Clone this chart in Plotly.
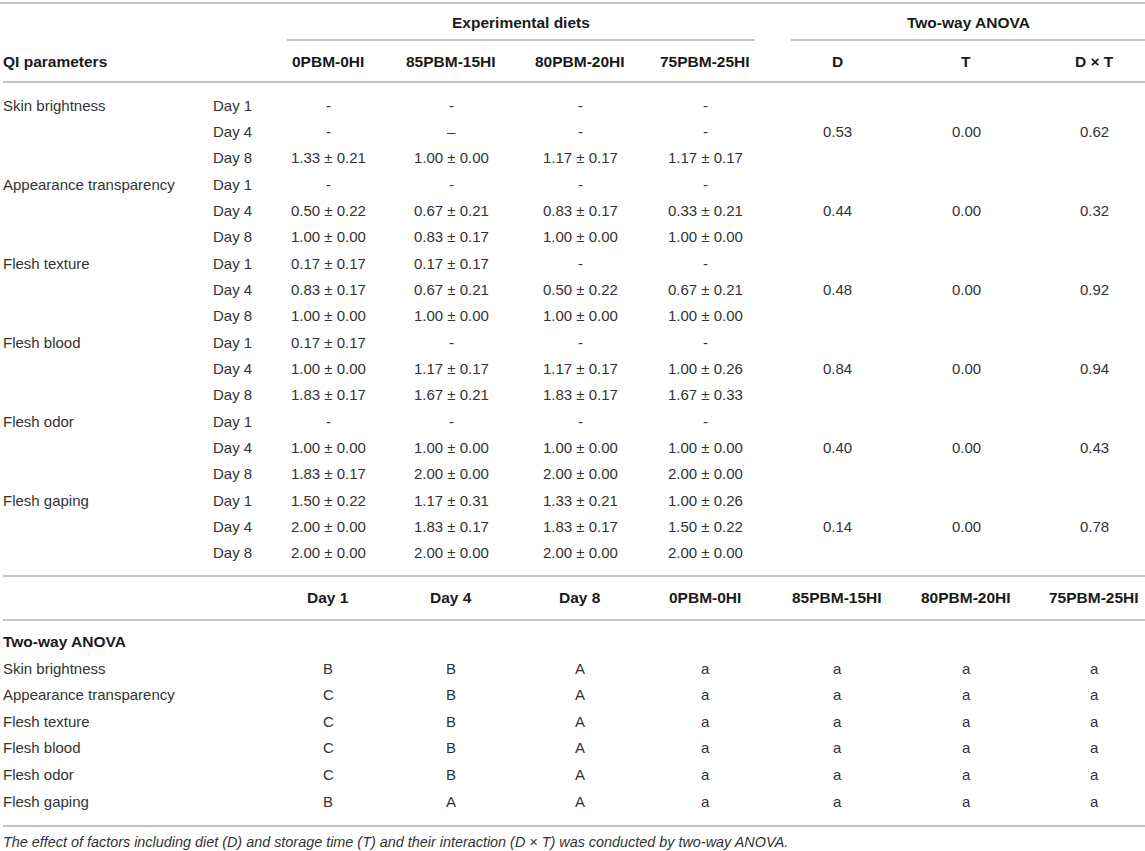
import plotly.graph_objects as go

# ---- table content ----
params = ["Skin brightness", "Appearance transparency", "Flesh texture",
          "Flesh blood", "Flesh odor", "Flesh gaping"]
days = ["Day 1", "Day 4", "Day 8"]
diets = ["0PBM-0HI", "85PBM-15HI", "80PBM-20HI", "75PBM-25HI"]
anova_cols = ["D", "T", "D × T"]

# mean ± SE per diet, rows = param x day (Day 1, Day 4, Day 8)
diet_0pbm = ["-", "-", "1.33 ± 0.21",
             "-", "0.50 ± 0.22", "1.00 ± 0.00",
             "0.17 ± 0.17", "0.83 ± 0.17", "1.00 ± 0.00",
             "0.17 ± 0.17", "1.00 ± 0.00", "1.83 ± 0.17",
             "-", "1.00 ± 0.00", "1.83 ± 0.17",
             "1.50 ± 0.22", "2.00 ± 0.00", "2.00 ± 0.00"]
diet_85pbm = ["-", "–", "1.00 ± 0.00",
              "-", "0.67 ± 0.21", "0.83 ± 0.17",
              "0.17 ± 0.17", "0.67 ± 0.21", "1.00 ± 0.00",
              "-", "1.17 ± 0.17", "1.67 ± 0.21",
              "-", "1.00 ± 0.00", "2.00 ± 0.00",
              "1.17 ± 0.31", "1.83 ± 0.17", "2.00 ± 0.00"]
diet_80pbm = ["-", "-", "1.17 ± 0.17",
              "-", "0.83 ± 0.17", "1.00 ± 0.00",
              "-", "0.50 ± 0.22", "1.00 ± 0.00",
              "-", "1.17 ± 0.17", "1.83 ± 0.17",
              "-", "1.00 ± 0.00", "2.00 ± 0.00",
              "1.33 ± 0.21", "1.83 ± 0.17", "2.00 ± 0.00"]
diet_75pbm = ["-", "-", "1.17 ± 0.17",
              "-", "0.33 ± 0.21", "1.00 ± 0.00",
              "-", "0.67 ± 0.21", "1.00 ± 0.00",
              "-", "1.00 ± 0.26", "1.67 ± 0.33",
              "-", "1.00 ± 0.00", "2.00 ± 0.00",
              "1.00 ± 0.26", "1.50 ± 0.22", "2.00 ± 0.00"]

# two-way ANOVA p-values per parameter
p_diet = [0.53, 0.44, 0.48, 0.84, 0.40, 0.14]
p_time = [0.00, 0.00, 0.00, 0.00, 0.00, 0.00]
p_inter = [0.62, 0.32, 0.92, 0.94, 0.43, 0.78]

# significance letters (lower block)
letters_day1 = ["B", "C", "C", "C", "C", "B"]
letters_day4 = ["B", "B", "B", "B", "B", "A"]
letters_day8 = ["A", "A", "A", "A", "A", "A"]
letters_0pbm = ["a", "a", "a", "a", "a", "a"]
letters_85pbm = ["a", "a", "a", "a", "a", "a"]
letters_80pbm = ["a", "a", "a", "a", "a", "a"]
letters_75pbm = ["a", "a", "a", "a", "a", "a"]

footnote = ("The effect of factors including diet (D) and storage time (T) and their "
            "interaction (D × T) was conducted by two-way ANOVA.")

# ---- layout constants (pixel space) ----
W, H = 1145, 851
FONT = "Liberation Sans, Arial, Helvetica, sans-serif"
BODY = "#333333"
HEAD = "#1a1a1a"
LINE = "#b0b0b0"
BODY_SIZE = 15
HEAD_SIZE = 15.5
col_x = [328, 451, 580, 705, 837, 966, 1094]
left_x = 1
day_x = 211
row0, pitch = 105, 26.35
low_row0, low_pitch = 668, 26.6

fig = go.Figure()
annos = []


def txt(x, y, s, anchor="center", bold=False, italic=False, size=BODY_SIZE, color=BODY):
    if bold:
        s = f"<b>{s}</b>"
        size = HEAD_SIZE
    if italic:
        s = f"<i>{s}</i>"
    annos.append(dict(x=x, y=y, xref="x", yref="y", text=s, showarrow=False,
                      xanchor=anchor, yanchor="middle",
                      font=dict(family=FONT, size=size, color=color)))


def hline(y, x0=3, x1=W):
    fig.add_shape(type="line", xref="x", yref="y", x0=x0, x1=x1, y0=y, y1=y,
                  line=dict(color=LINE, width=1.5))


# header
txt(521, 22, "Experimental diets", bold=True, color=HEAD)
txt(968, 22, "Two-way ANOVA", bold=True, color=HEAD)
txt(left_x, 61, "QI parameters", anchor="left", bold=True, color=HEAD)
for i, h in enumerate(diets + anova_cols):
    txt(col_x[i], 61, h, bold=True, color=HEAD)

# upper body
diet_cols = [diet_0pbm, diet_85pbm, diet_80pbm, diet_75pbm]
for p, name in enumerate(params):
    txt(left_x, row0 + p * 3 * pitch, name, anchor="left")
    for d, day in enumerate(days):
        r = p * 3 + d
        y = row0 + r * pitch
        txt(day_x, y, day, anchor="left")
        for c, vals in enumerate(diet_cols):
            txt(col_x[c], y, vals[r])
    y_mid = row0 + (p * 3 + 1) * pitch
    for c, vals in enumerate([p_diet, p_time, p_inter]):
        txt(col_x[4 + c], y_mid, f"{vals[p]:.2f}")

# lower block
for i, h in enumerate(days + diets):
    txt(col_x[i], 597, h, bold=True, color=HEAD)
txt(left_x, 641, "Two-way ANOVA", anchor="left", bold=True, color=HEAD)
low_cols = [letters_day1, letters_day4, letters_day8,
            letters_0pbm, letters_85pbm, letters_80pbm, letters_75pbm]
for p, name in enumerate(params):
    y = low_row0 + p * low_pitch
    txt(left_x, y, name, anchor="left")
    for c, vals in enumerate(low_cols):
        txt(col_x[c], y, vals[p])

txt(left_x, 842, footnote, anchor="left", italic=True, size=14.4)

# rules
hline(3, 0)
hline(40, 287, 755)
hline(40, 791, W)
hline(82)
hline(576)
hline(620)
hline(826)

fig.update_layout(
    width=W, height=H,
    margin=dict(l=0, r=0, t=0, b=0),
    paper_bgcolor="white", plot_bgcolor="white",
    xaxis=dict(range=[0, W], visible=False, fixedrange=True),
    yaxis=dict(range=[H, 0], visible=False, fixedrange=True),
    annotations=annos,
    showlegend=False,
)

fig.write_html("out.html", config={"displayModeBar": False},
               post_script="document.body.style.margin='0';")
